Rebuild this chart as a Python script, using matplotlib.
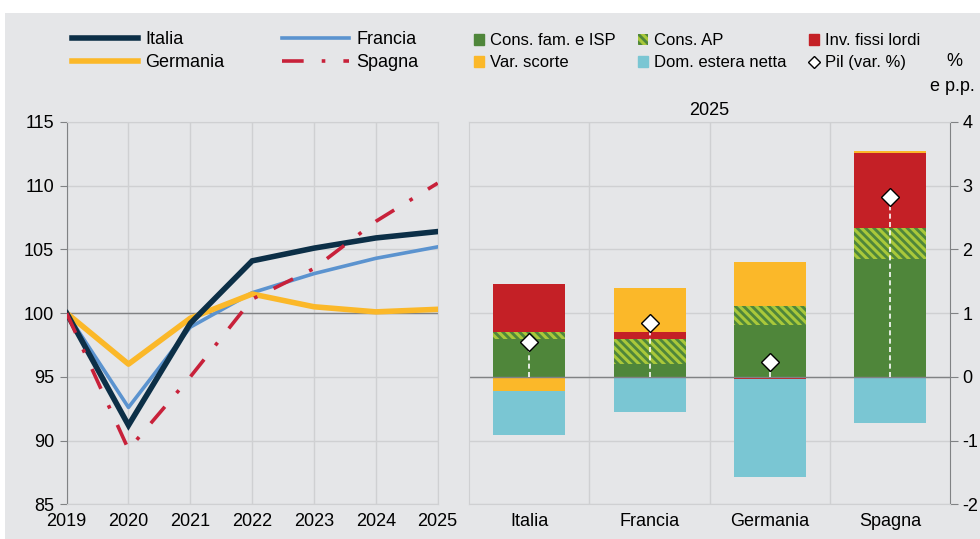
import matplotlib
matplotlib.use("Agg")
import matplotlib.pyplot as plt
from matplotlib.lines import Line2D
from matplotlib.patches import Patch, Rectangle
import numpy as np

plt.rcParams['font.family'] = ['Liberation Sans', 'DejaVu Sans']
plt.rcParams['font.size'] = 13
plt.rcParams['hatch.linewidth'] = 2.2
plt.rcParams['axes.unicode_minus'] = False

# --- left panel data (index 2019 = 100)
years = [2019, 2020, 2021, 2022, 2023, 2024, 2025]
italia = [100, 91.2, 99.2, 104.1, 105.1, 105.9, 106.4]
francia = [100, 92.6, 98.9, 101.6, 103.1, 104.3, 105.2]
germania = [100, 96.0, 99.6, 101.5, 100.5, 100.1, 100.3]
spagna = [100, 89.3, 95.0, 101.1, 103.5, 107.2, 110.2]

# --- right panel data (2025 contributions, p.p.)
paesi = ["Italia", "Francia", "Germania", "Spagna"]
cons_fam = [0.60, 0.20, 0.81, 1.85]
cons_ap = [0.11, 0.40, 0.30, 0.48]
inv_fissi = [0.75, 0.11, -0.03, 1.19]
var_scorte = [-0.22, 0.68, 0.70, 0.03]
dom_estera = [-0.70, -0.55, -1.54, -0.73]
pil = [0.54, 0.84, 0.23, 2.82]

BG = "#e5e6e8"
GRID = "#cfd0d2"
DARK = "#808284"
C_IT = "#0c2f47"
C_FR = "#5b93cf"
C_GE = "#fbb829"
C_SP = "#c8213a"
C_GREEN = "#4f863a"
C_LIME = "#a9c83a"
C_RED = "#c42026"
C_CYAN = "#7ac6d3"
HATCH = "\\\\\\\\"

fig = plt.figure(figsize=(9.8, 5.39), dpi=100, facecolor="white")
fig.patches.append(Rectangle((5 / 980, 0), 1, 1 - 13 / 539, transform=fig.transFigure,
                             facecolor=BG, edgecolor="none", zorder=-10))

ax1 = fig.add_axes([0.068, 0.0644, 0.3786, 0.7093])
ax2 = fig.add_axes([0.4789, 0.0644, 0.4905, 0.7093])
for ax in (ax1, ax2):
    ax.set_facecolor("none")
    ax.grid(True, color=GRID, lw=1)
    ax.set_axisbelow(True)
    for s in ax.spines.values():
        s.set_color(GRID)

# left panel
l_it, = ax1.plot(years, italia, color=C_IT, lw=4, solid_joinstyle="miter", zorder=4)
l_fr, = ax1.plot(years, francia, color=C_FR, lw=2.6, zorder=3)
l_ge, = ax1.plot(years, germania, color=C_GE, lw=4, zorder=3)
l_sp, = ax1.plot(years, spagna, color=C_SP, lw=2.6, dashes=(6, 5, 1, 5), zorder=5)
ax1.axhline(100, color=DARK, lw=1, zorder=2)
ax1.set_xlim(2019, 2025)
ax1.set_ylim(85, 115)
ax1.set_yticks(range(85, 116, 5))
ax1.set_xticks(years)
ax1.spines["left"].set_color(DARK)
ax1.tick_params(axis="y", direction="out", length=5, color=DARK, pad=4, labelsize=13)
ax1.tick_params(axis="x", length=0, pad=6, labelsize=13)

# right panel: stacked bars
x = np.arange(len(paesi))
w = 0.6
series = [
    (cons_fam, dict(color=C_GREEN)),
    (cons_ap, dict(facecolor=C_GREEN, edgecolor=C_LIME, hatch=HATCH, linewidth=0)),
    (inv_fissi, dict(color=C_RED)),
    (var_scorte, dict(color=C_GE)),
    (dom_estera, dict(color=C_CYAN)),
]
pos = np.zeros(len(paesi))
neg = np.zeros(len(paesi))
for vals, style in series:
    v = np.array(vals)
    bottom = np.where(v >= 0, pos, neg)
    ax2.bar(x, v, w, bottom=bottom, zorder=2, **style)
    pos = pos + np.where(v >= 0, v, 0)
    neg = neg + np.where(v < 0, v, 0)

ax2.vlines(x, 0, pil, colors="white", linestyles=(0, (3, 2)), lw=1.2, zorder=3)
ax2.plot(x, pil, linestyle="none", marker="D", markersize=9, markerfacecolor="white",
         markeredgecolor="black", markeredgewidth=1, zorder=4)
ax2.axhline(0, color=DARK, lw=1, zorder=2.5)
ax2.set_xlim(-0.5, 3.5)
ax2.set_ylim(-2, 4)
ax2.set_xticks(x)
ax2.set_xticklabels(paesi)
ax2.set_xticks([0.5, 1.5, 2.5], minor=True)
ax2.grid(False, axis="x", which="major")
ax2.grid(True, axis="x", which="minor", color=GRID, lw=1)
ax2.tick_params(axis="x", which="both", length=0, pad=6, labelsize=13)
ax2.yaxis.tick_right()
ax2.spines["right"].set_color(DARK)
ax2.tick_params(axis="y", direction="out", length=6, color=DARK, pad=3, labelsize=13)
ax2.set_title("2025", fontsize=13, pad=5)

fig.text(0.974, 0.885, "%", ha="center", va="center", fontsize=13)
fig.text(0.972, 0.840, "e p.p.", ha="center", va="center", fontsize=13)

# legends
fig.legend(handles=[l_it, l_ge, l_fr, l_sp], labels=["Italia", "Germania", "Francia", "Spagna"],
           ncol=2, loc="upper left", bbox_to_anchor=(0.073, 0.942), frameon=False,
           handlelength=3.7, handletextpad=0.4, columnspacing=3.2, labelspacing=0.33,
           borderpad=0, borderaxespad=0, fontsize=13)

h = [Patch(color=C_GREEN), Patch(color=C_GE),
     Patch(facecolor=C_GREEN, edgecolor=C_LIME, hatch=HATCH, linewidth=0), Patch(color=C_CYAN),
     Patch(color=C_RED),
     Line2D([], [], linestyle="none", marker="D", markersize=6, markerfacecolor="white",
            markeredgecolor="black", markeredgewidth=1)]
lab = ["Cons. fam. e ISP", "Var. scorte", "Cons. AP", "Dom. estera netta",
       "Inv. fissi lordi", "Pil (var. %)"]
fig.legend(handles=h, labels=lab, ncol=3, loc="upper left", bbox_to_anchor=(0.484, 0.938),
           frameon=False, handlelength=0.6, handleheight=0.6, handletextpad=0.35,
           columnspacing=1.35, labelspacing=0.42, borderpad=0, borderaxespad=0, fontsize=12)

fig.savefig("out.png", dpi=100, facecolor="white")
